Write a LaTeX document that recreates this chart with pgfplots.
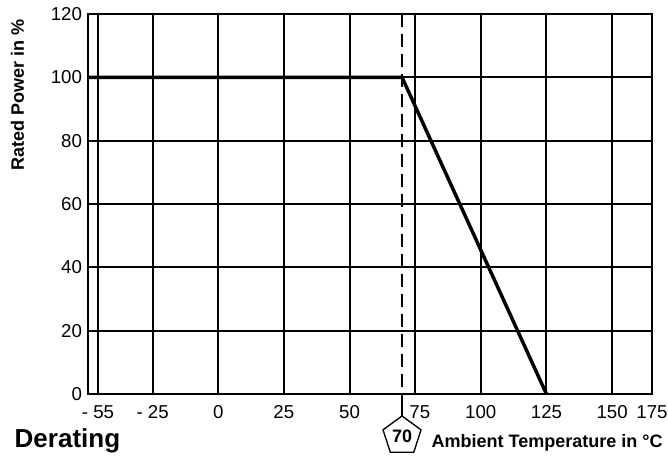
\documentclass[border=0pt]{standalone}
\usepackage{fontspec}
\setmainfont{Liberation Sans}
\usepackage{pgfplots}
\pgfplotsset{compat=1.18}
\usetikzlibrary{shapes.geometric}

% x is drawn on a schematic scale: -55 and 175 sit closer than 25-unit steps
\begin{document}
\begin{tikzpicture}
\begin{axis}[
  scale only axis, width=423pt, height=285pt,
  xmin=-49.6, xmax=165.2, ymin=0, ymax=120,
  xtick={-45.8,-25,0,25,50,75,100,125,150,165.2},
  xticklabels={- 55,- 25,0,25,50,\hspace{7pt}75,100,125,150,175},
  ytick={0,20,...,120},
  tick style={draw=none},
  grid=major, grid style={black, line width=1.5pt},
  axis line style={line width=1.5pt},
  tick label style={font=\fontsize{14}{16}\selectfont},
  /pgf/number format/assume math mode=true,
  yticklabel style={xshift=-1pt},
  xticklabel style={yshift=-5pt},
  clip=false,
]
\addplot[black, line width=1.4pt, dash pattern=on 10pt off 5pt] coordinates {(70,120)(70,0)};
\addplot[black, line width=2.6pt] coordinates {(-49.6,100)(70,100)(125,0)};
\coordinate (bl) at (rel axis cs:0,0);
\coordinate (tl) at (rel axis cs:0,1);
\coordinate (br) at (rel axis cs:1,0);
\coordinate (d70) at (axis cs:70,0);
\end{axis}
\draw[black, line width=1.4pt] (d70) -- ++(0,-18pt);
\node[draw, line width=1pt, regular polygon, regular polygon sides=5, minimum size=30pt, inner sep=0pt,
      fill=white, font=\bfseries\fontsize{13.5}{15}\selectfont]
  at ([yshift=-31.5pt]d70) {70};
\node[anchor=base east, font=\bfseries\fontsize{13.5}{15}\selectfont]
  at ([xshift=11.5pt, yshift=-40pt]br) {Ambient Temperature in °C};
\node[anchor=base west, font=\bfseries\fontsize{19.5}{22}\selectfont]
  at ([xshift=-58.5pt, yshift=-40pt]bl) {Derating};
\node[rotate=90, anchor=east, font=\bfseries\fontsize{13.5}{15}\selectfont]
  at ([xshift=-53pt, yshift=-0.75pt]tl) {Rated Power in \%};
\pgfresetboundingbox
\path (bl) ++(-66pt,-45.75pt) rectangle ++(501pt,341.25pt);
\end{tikzpicture}
\end{document}
